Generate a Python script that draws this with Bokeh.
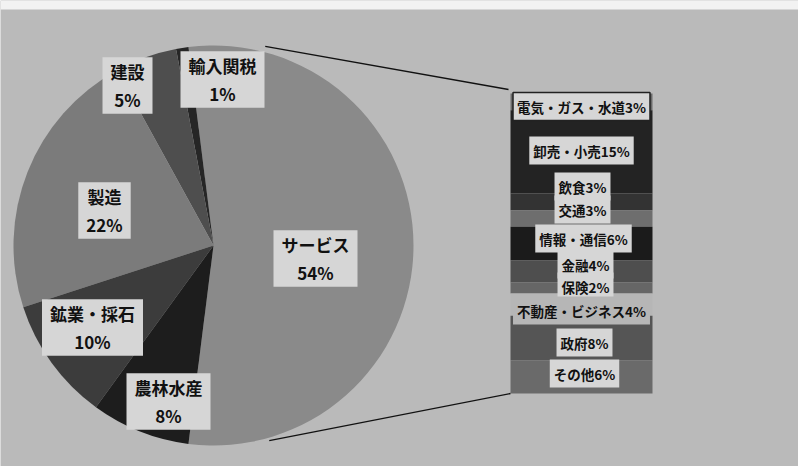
import numpy as np
from bokeh.plotting import figure
from bokeh.models import Range1d, ColumnDataSource
from bokeh.embed import file_html
from bokeh.resources import INLINE
from bokeh.core.properties import value

# ---------------- data ----------------
pie_labels = ["サービス", "輸入関税", "建設", "製造", "鉱業・採石", "農林水産"]
pie_values = [54, 1, 5, 22, 10, 8]

bar_labels = ["電気・ガス・水道", "卸売・小売", "飲食", "交通", "情報・通信",
              "金融", "保険", "不動産・ビジネス", "政府", "その他"]
bar_values = [3, 15, 3, 3, 6, 4, 2, 4, 8, 6]

# ---------------- styles / layout ----------------
W, H = 798, 466
BG = "#bababa"
pie_colors = ["#8a8a8a", "#262626", "#4e4e4e", "#7b7b7b", "#3c3c3c", "#1d1d1d"]
bar_colors = ["#6a6a6a", "#232323", "#333333", "#6e6e6e", "#1b1b1b",
              "#4e4e4e", "#666666", "#b6b6b6", "#555555", "#6a6a6a"]
BOX = "#d6d6d6"
FONT = value("Noto Sans CJK JP")

def py(y_px):
    return H - y_px

cx, cy, R = 213, py(245), 200
bar_left, bar_right = 510, 652
bar_top_px, bar_bot_px = 93, 393

p = figure(width=W, height=H, x_range=Range1d(0, W), y_range=Range1d(0, H),
           output_backend="svg", toolbar_location=None,
           x_axis_type=None, y_axis_type=None, min_border=0)
p.outline_line_color = None
p.grid.visible = False
p.background_fill_color = BG
p.border_fill_color = BG

# photo top white band
p.quad(left=0, right=W, top=H, bottom=py(9), fill_color="#f2f2f2", line_color=None)

# ---------------- pie ----------------
total = sum(pie_values)
deg = [v / total * 2 * np.pi for v in pie_values]
start0 = -deg[0] / 2
starts, ends = [], []
a = start0
for d in deg:
    starts.append(a)
    ends.append(a + d)
    a += d
pie_src = ColumnDataSource(dict(start=starts, end=ends, color=pie_colors, label=pie_labels))
p.wedge(x=cx, y=cy, radius=R, start_angle="start", end_angle="end",
        fill_color="color", line_color=None, source=pie_src)

# ---------------- bar (stacked, own y range) ----------------
bar_total = sum(bar_values)
k = (bar_bot_px - bar_top_px) / bar_total
rstart = -py(bar_bot_px) / k
p.extra_y_ranges = {"bar": Range1d(rstart, rstart + H / k)}
tops, bots = [], []
acc = bar_total
for v in bar_values:
    tops.append(acc)
    bots.append(acc - v)
    acc -= v
bar_src = ColumnDataSource(dict(top=tops, bottom=bots, color=bar_colors))
p.quad(left=bar_left, right=bar_right, top="top", bottom="bottom",
       fill_color="color", line_color=None, y_range_name="bar", source=bar_src)

# ---------------- connector lines ----------------
ang = np.deg2rad(75)
p.line([cx + R * np.cos(ang), bar_left - 2], [cy + R * np.sin(ang) + 6, py(bar_top_px - 4)],
       line_color="#111111", line_width=1.3)
p.line([cx + R * np.cos(-ang) + 4, bar_left], [cy + R * np.sin(-ang) - 2, py(bar_bot_px)],
       line_color="#111111", line_width=1.3)

# ---------------- pie labels ----------------
pie_lx = [315, 222, 127, 104, 92, 168]
pie_ly = [258, 79, 85, 210, 327, 401]
pie_text = [f"{l}\n{v}%" for l, v in zip(pie_labels, pie_values)]
p.text(x=pie_lx, y=[py(v) for v in pie_ly], text=pie_text,
       text_font=FONT, text_font_size="17px", text_font_style="bold",
       text_color="#111111", text_align="center", text_baseline="middle",
       text_line_height=1.1,
       background_fill_color=BOX,
       padding=dict(left=8, right=8, top=2, bottom=2))

# ---------------- bar labels ----------------
bar_lx = [581, 581, 582, 582, 583, 585, 585, 581, 584, 584]
bar_ly = [106, 150, 186, 209, 238, 264, 286, 310, 342, 373]
bar_text = [f"{l}{v}%" for l, v in zip(bar_labels, bar_values)]
fills = [BOX] * len(bar_text)
fills[7] = "#b6b6b6"
lbl_src = ColumnDataSource(dict(x=bar_lx[1:], y=[py(v) for v in bar_ly[1:]],
                                text=bar_text[1:], fill=fills[1:]))
p.text(x="x", y="y", text="text", source=lbl_src,
       text_font=FONT, text_font_size="13.5px", text_font_style="bold",
       text_color="#111111", text_align="center", text_baseline="middle",
       background_fill_color="fill",
       padding=dict(left=4, right=4, top=4, bottom=4))
# bordered first label
p.text(x=[bar_lx[0]], y=[py(bar_ly[0])], text=[bar_text[0]],
       text_font=FONT, text_font_size="13.5px", text_font_style="bold",
       text_color="#111111", text_align="center", text_baseline="middle",
       background_fill_color=BOX, border_line_color="#222222", border_line_width=1.5,
       padding=dict(left=4, right=4, top=4, bottom=4))

open("out.html", "w").write(file_html(p, INLINE))
